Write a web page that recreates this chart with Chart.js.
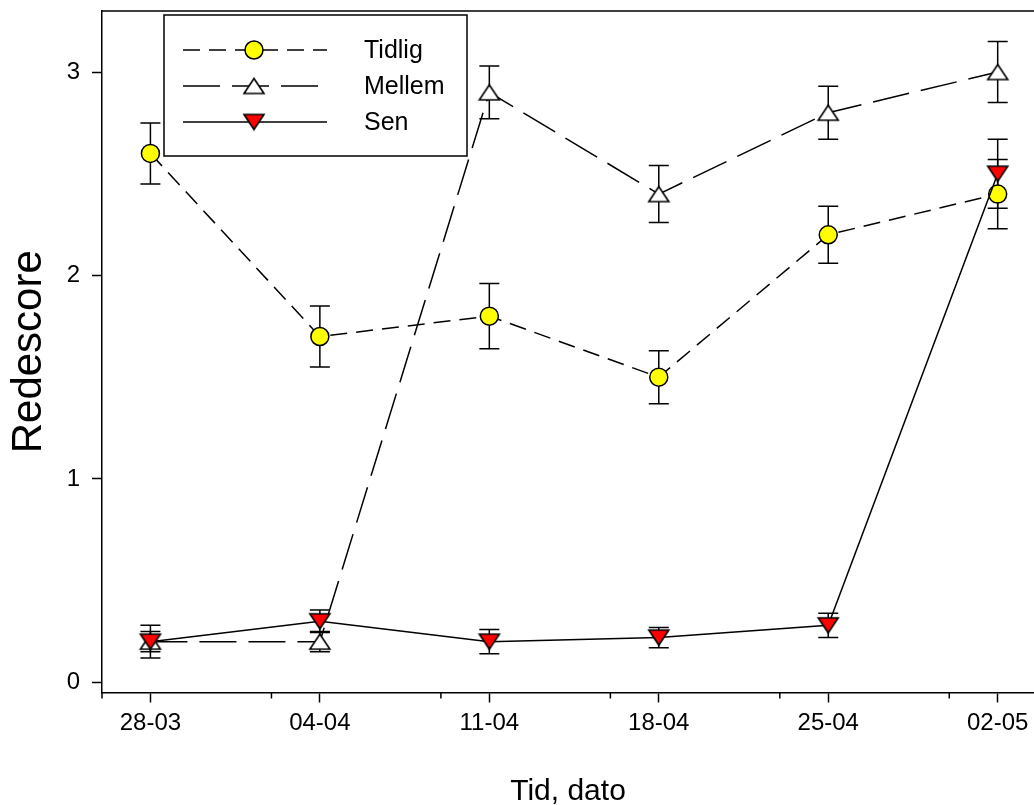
<!DOCTYPE html>
<html>
<head>
<meta charset="utf-8">
<script src="https://cdn.jsdelivr.net/npm/chart.js@4.4.1/dist/chart.umd.min.js"></script>
<style>
  html, body { margin: 0; padding: 0; background: #ffffff; overflow: hidden; }
  canvas { display: block; }
</style>
</head>
<body>
<canvas id="chart" width="1034" height="805"></canvas>
<script>
// Sampling days (days after 28-03) and their date labels
const dayOffsets = [0, 7, 14, 21, 28, 35];
const dateLabels = ['28-03', '04-04', '11-04', '18-04', '25-04', '02-05'];
const minorTickDays = [-2, 5, 12, 19, 26, 33];
const yTickValues = [0, 1, 2, 3];

const seriesNames = ['Tidlig', 'Mellem', 'Sen'];

// Mean score and standard error per sampling day
const tidlig    = [2.6, 1.7, 1.8, 1.5, 2.2, 2.4];
const tidligErr = [0.15, 0.15, 0.16, 0.13, 0.14, 0.17];
const mellem    = [0.2, 0.2, 2.9, 2.4, 2.8, 3.0];
const mellemErr = [0.05, 0.05, 0.13, 0.14, 0.13, 0.15];
const sen       = [0.2, 0.3, 0.2, 0.22, 0.28, 2.5];
const senErr    = [0.08, 0.055, 0.06, 0.05, 0.06, 0.17];

const FONT = "'Liberation Sans', Arial, sans-serif";

// Triangle markers drawn once into small canvases (20 x 15 px bounding box)
function triangleMarker(pointsUp, fill) {
  const c = document.createElement('canvas');
  c.width = 24; c.height = 19;
  const g = c.getContext('2d');
  g.beginPath();
  if (pointsUp) {
    g.moveTo(12, 2); g.lineTo(22, 17); g.lineTo(2, 17);
  } else {
    g.moveTo(2, 2); g.lineTo(22, 2); g.lineTo(12, 17);
  }
  g.closePath();
  g.fillStyle = fill;
  g.fill();
  g.lineWidth = 1.6;
  g.lineJoin = 'miter';
  g.strokeStyle = '#000000';
  g.stroke();
  return c;
}
const triUp = triangleMarker(true, '#ffffff');
const triDown = triangleMarker(false, '#ff0000');

function points(values) {
  return values.map((v, i) => ({ x: dayOffsets[i], y: v }));
}

const errors = [tidligErr, mellemErr, senErr];

const extras = {
  id: 'extras',
  beforeDatasetsDraw(chart) {
    const { ctx, scales: { x, y } } = chart;
    ctx.save();
    ctx.strokeStyle = '#000000';
    ctx.lineWidth = 1.5;
    chart.data.datasets.forEach((ds, i) => {
      ds.data.forEach((p, j) => {
        const e = errors[i][j];
        const px = x.getPixelForValue(p.x);
        const top = y.getPixelForValue(p.y + e);
        const bot = y.getPixelForValue(p.y - e);
        ctx.beginPath();
        ctx.moveTo(px, top); ctx.lineTo(px, bot);
        ctx.moveTo(px - 10, top); ctx.lineTo(px + 10, top);
        ctx.moveTo(px - 10, bot); ctx.lineTo(px + 10, bot);
        ctx.stroke();
      });
    });
    ctx.restore();
  },
  afterDraw(chart) {
    const { ctx, chartArea: a, scales: { x } } = chart;
    ctx.save();
    ctx.strokeStyle = '#000000';
    // top frame line
    ctx.lineWidth = 1.5;
    ctx.beginPath();
    ctx.moveTo(a.left, a.top); ctx.lineTo(chart.width, a.top);
    ctx.stroke();
    // minor ticks on the date axis
    ctx.beginPath();
    minorTickDays.forEach(d => {
      const px = x.getPixelForValue(d);
      if (px >= a.left - 1 && px <= a.right) {
        ctx.moveTo(px, a.bottom); ctx.lineTo(px, a.bottom + 6);
      }
    });
    ctx.stroke();

    // legend box
    const bx = 164, by = 15, bw = 303, bh = 141;
    ctx.fillStyle = '#ffffff';
    ctx.fillRect(bx, by, bw, bh);
    ctx.lineWidth = 1.5;
    ctx.strokeRect(bx, by, bw, bh);
    const rows = [50, 86, 122];
    chart.data.datasets.forEach((ds, i) => {
      const ry = rows[i];
      ctx.save();
      ctx.lineWidth = ds.borderWidth;
      ctx.setLineDash(ds.borderDash || []);
      ctx.beginPath();
      ctx.moveTo(183, ry); ctx.lineTo(327, ry);
      ctx.stroke();
      ctx.restore();
      const st = ds.pointStyle;
      if (st === 'circle') {
        ctx.beginPath();
        ctx.arc(254, ry, ds.pointRadius, 0, Math.PI * 2);
        ctx.fillStyle = ds.pointBackgroundColor;
        ctx.fill();
        ctx.lineWidth = ds.pointBorderWidth;
        ctx.stroke();
      } else {
        ctx.drawImage(st, 254 - st.width / 2, ry - st.height / 2);
      }
      ctx.fillStyle = '#000000';
      ctx.font = '25px ' + FONT;
      ctx.textBaseline = 'middle';
      ctx.textAlign = 'left';
      ctx.fillText(seriesNames[i], 364, ry + 1);
    });
    ctx.restore();
  }
};

new Chart(document.getElementById('chart'), {
  type: 'line',
  data: {
    datasets: [
      {
        label: seriesNames[0],
        data: points(tidlig),
        borderColor: '#000000',
        borderWidth: 1.5,
        borderDash: [17, 9],
        pointStyle: 'circle',
        pointRadius: 9,
        pointBackgroundColor: '#ffff00',
        pointBorderColor: '#000000',
        pointBorderWidth: 1.5,
        order: 1
      },
      {
        label: seriesNames[1],
        data: points(mellem),
        borderColor: '#000000',
        borderWidth: 1.5,
        borderDash: [37, 12],
        pointStyle: triUp,
        pointRadius: 10,
        order: 2
      },
      {
        label: seriesNames[2],
        data: points(sen),
        borderColor: '#000000',
        borderWidth: 1.5,
        pointStyle: triDown,
        pointRadius: 10,
        order: 0
      }
    ]
  },
  options: {
    responsive: false,
    animation: false,
    events: [],
    layout: { autoPadding: false, padding: { top: 11, right: 0, left: 0, bottom: 0 } },
    plugins: {
      legend: { display: false },
      tooltip: { enabled: false }
    },
    scales: {
      x: {
        type: 'linear',
        min: -2,
        max: 36.5,
        afterFit(scale) {
          scale.height = 112.5;
          scale.paddingLeft = 0;
          scale.paddingRight = 0;
        },
        afterBuildTicks(scale) { scale.ticks = dayOffsets.map(v => ({ value: v })); },
        ticks: {
          autoSkip: false,
          maxRotation: 0,
          padding: 6,
          color: '#000000',
          font: { family: FONT, size: 24 },
          callback(value) {
            const i = dayOffsets.indexOf(value);
            return i >= 0 ? dateLabels[i] : '';
          }
        },
        grid: {
          drawOnChartArea: false,
          drawTicks: true,
          tickLength: 10,
          tickColor: '#000000',
          tickWidth: 1.5
        },
        border: { display: true, color: '#000000', width: 1.5 },
        title: {
          display: true,
          text: 'Tid, dato',
          color: '#000000',
          font: { family: FONT, size: 30, lineHeight: 0.9 },
          padding: { top: 0, bottom: 0 }
        }
      },
      y: {
        type: 'linear',
        min: -0.05,
        max: 3.3,
        afterFit(scale) {
          scale.width = 102;
          scale.paddingTop = 0;
          scale.paddingBottom = 0;
        },
        afterBuildTicks(scale) { scale.ticks = yTickValues.map(v => ({ value: v })); },
        ticks: {
          padding: 12,
          color: '#000000',
          font: { family: FONT, size: 24 }
        },
        grid: {
          drawOnChartArea: false,
          drawTicks: true,
          tickLength: 10,
          tickColor: '#000000',
          tickWidth: 1.5
        },
        border: { display: true, color: '#000000', width: 1.5 },
        title: {
          display: true,
          text: 'Redescore',
          color: '#000000',
          font: { family: FONT, size: 42, lineHeight: 1.2 },
          padding: { top: 4, bottom: 0 }
        }
      }
    }
  },
  plugins: [extras]
});
</script>
</body>
</html>
